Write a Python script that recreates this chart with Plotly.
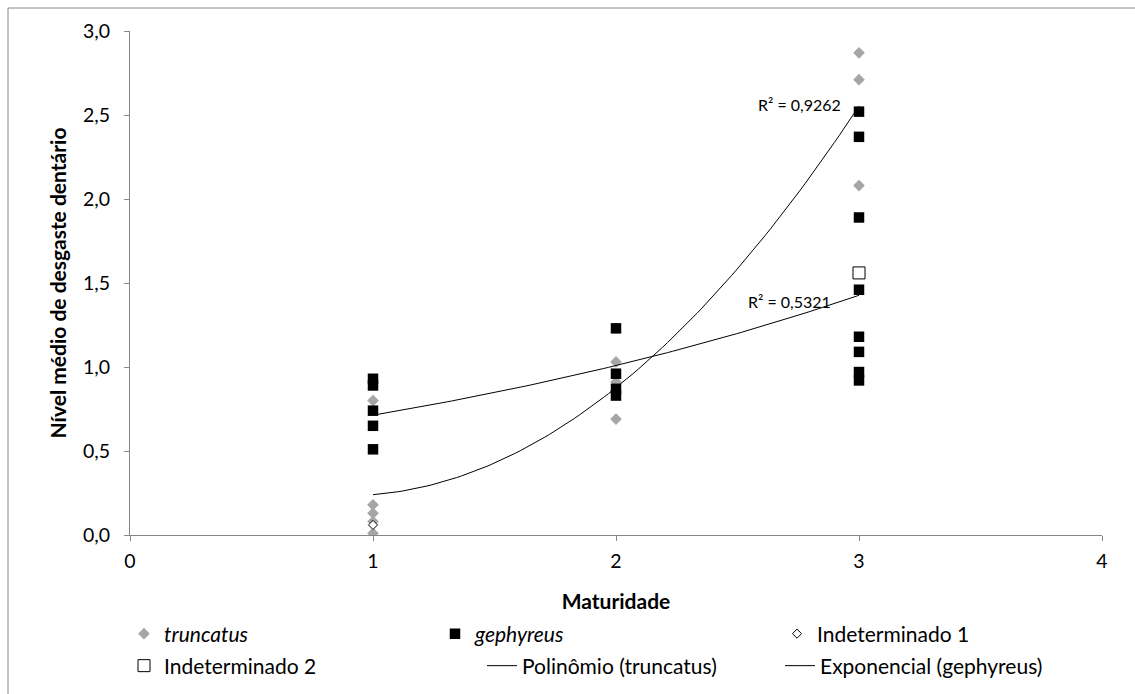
import numpy as np
import plotly.graph_objects as go

# ---- data ----
truncatus_x = [1, 1, 1, 1, 1, 2, 2, 2, 3, 3, 3]
truncatus_y = [0.80, 0.18, 0.13, 0.08, 0.01, 1.03, 0.91, 0.69, 2.87, 2.71, 2.08]

gephyreus_x = [1, 1, 1, 1, 1, 2, 2, 2, 2, 3, 3, 3, 3, 3, 3, 3, 3]
gephyreus_y = [0.93, 0.89, 0.74, 0.65, 0.51,
               1.23, 0.96, 0.87, 0.83,
               2.52, 2.37, 1.89, 1.46, 1.18, 1.09, 0.97, 0.92]

indet1_x = [1]
indet1_y = [0.06]
indet2_x = [3]
indet2_y = [1.56]

x_ticks = [0, 1, 2, 3, 4]
y_ticks = [0, 0.5, 1.0, 1.5, 2.0, 2.5, 3.0]
r2_poly = "R² = 0,9262"
r2_exp = "R² = 0,5321"

# ---- trend lines (fits computed from the data) ----
xf = np.linspace(1, 3, 100)
pc = np.polyfit(truncatus_x, truncatus_y, 2)
poly_y = np.polyval(pc, xf)
ec = np.polyfit(gephyreus_x, np.log(gephyreus_y), 1)
exp_y = np.exp(np.polyval(ec, xf))

FONT = "Lato, 'Open Sans', sans-serif"
FS_TICK = 19.5
FS_LEG = 21
FS_TITLE = 21
GRAY = "#A6A6A6"
AX = "#868686"

fig = go.Figure()
fig.add_trace(go.Scatter(x=truncatus_x, y=truncatus_y, mode="markers", name="<i>truncatus</i>",
                         marker=dict(symbol="diamond", size=9, color=GRAY), legend="legend"))
fig.add_trace(go.Scatter(x=gephyreus_x, y=gephyreus_y, mode="markers", name="<i>gephyreus</i>",
                         marker=dict(symbol="square", size=10.5, color="black"), legend="legend2"))
fig.add_trace(go.Scatter(x=indet1_x, y=indet1_y, mode="markers", name="Indeterminado 1",
                         marker=dict(symbol="diamond", size=7, color="white",
                                     line=dict(color="black", width=1)), legend="legend3"))
fig.add_trace(go.Scatter(x=indet2_x, y=indet2_y, mode="markers", name="Indeterminado 2",
                         marker=dict(symbol="square", size=12, color="white",
                                     line=dict(color="black", width=1)), legend="legend4"))
fig.add_trace(go.Scatter(x=xf, y=poly_y, mode="lines", name="Polinômio (truncatus)",
                         line=dict(color="black", width=1), legend="legend5"))
fig.add_trace(go.Scatter(x=xf, y=exp_y, mode="lines", name="Exponencial (gephyreus)",
                         line=dict(color="black", width=1), legend="legend6"))

# plot area in pixels: left 130, right 1102, top 31, bottom 535
L, R, T, B = 130, 1102, 31, 535
W, H = 1135, 694
pw, ph = R - L, B - T

def px(xp):
    return (xp - L) / pw

def py(yp):
    return (B - yp) / ph

leg_common = dict(orientation="h", xanchor="left", yanchor="middle",
                  xref="container", yref="container",
                  bgcolor="rgba(0,0,0,0)", font=dict(family=FONT, size=FS_LEG, color="black"),
                  itemwidth=30, tracegroupgap=0)
legends = {
    "legend": (124, 634),
    "legend2": (435, 634),
    "legend3": (777, 634),
    "legend4": (124, 666),
    "legend5": (482, 666),
    "legend6": (780, 666),
}
layout_leg = {}
for k, (lx, ly) in legends.items():
    layout_leg[k] = dict(x=lx / W, y=1 - ly / H, **leg_common)

fig.update_layout(
    width=W, height=H,
    margin=dict(l=L, r=W - R, t=T, b=H - B, autoexpand=False),
    paper_bgcolor="white", plot_bgcolor="white",
    separators=", ",
    font=dict(family=FONT, size=FS_TICK, color="black"),
    showlegend=True,
    **layout_leg,
    xaxis=dict(range=[0, 4], tickvals=x_ticks, showgrid=False, zeroline=False, automargin=False,
               showline=True, linecolor=AX, linewidth=1, ticks="outside", ticklen=5,
               tickcolor=AX, tickfont=dict(size=FS_TICK), ticklabelstandoff=4,
               title=dict(text="<b>Maturidade</b>", font=dict(size=FS_TITLE), standoff=22)),
    yaxis=dict(range=[0, 3], tickvals=y_ticks, tickformat=".1f", showgrid=False, zeroline=False,
               automargin=False,
               showline=True, linecolor=AX, linewidth=1, ticks="outside", ticklen=5,
               tickcolor=AX, tickfont=dict(size=FS_TICK), ticklabelstandoff=10,
               title=dict(text="<b>Nível médio de desgaste dentário</b>", font=dict(size=FS_TITLE),
                          standoff=10)),
    annotations=[
        dict(x=3, y=(B - 104) / 168 * 1.0, xref="x", yref="y", text=r2_poly, showarrow=False,
             xanchor="right", yanchor="middle", xshift=-16, font=dict(size=16, family=FONT)),
        dict(x=3, y=(B - 301) / 168 * 1.0, xref="x", yref="y", text=r2_exp, showarrow=False,
             xanchor="right", yanchor="middle", xshift=-26, font=dict(size=16, family=FONT)),
    ],
    shapes=[
        dict(type="line", xref="paper", yref="paper", x0=px(8), x1=px(W), y0=py(8), y1=py(8),
             line=dict(color=AX, width=1)),
        dict(type="line", xref="paper", yref="paper", x0=px(8), x1=px(8), y0=py(8), y1=py(H),
             line=dict(color=AX, width=1)),
    ],
)

fig.write_html("out.html")
